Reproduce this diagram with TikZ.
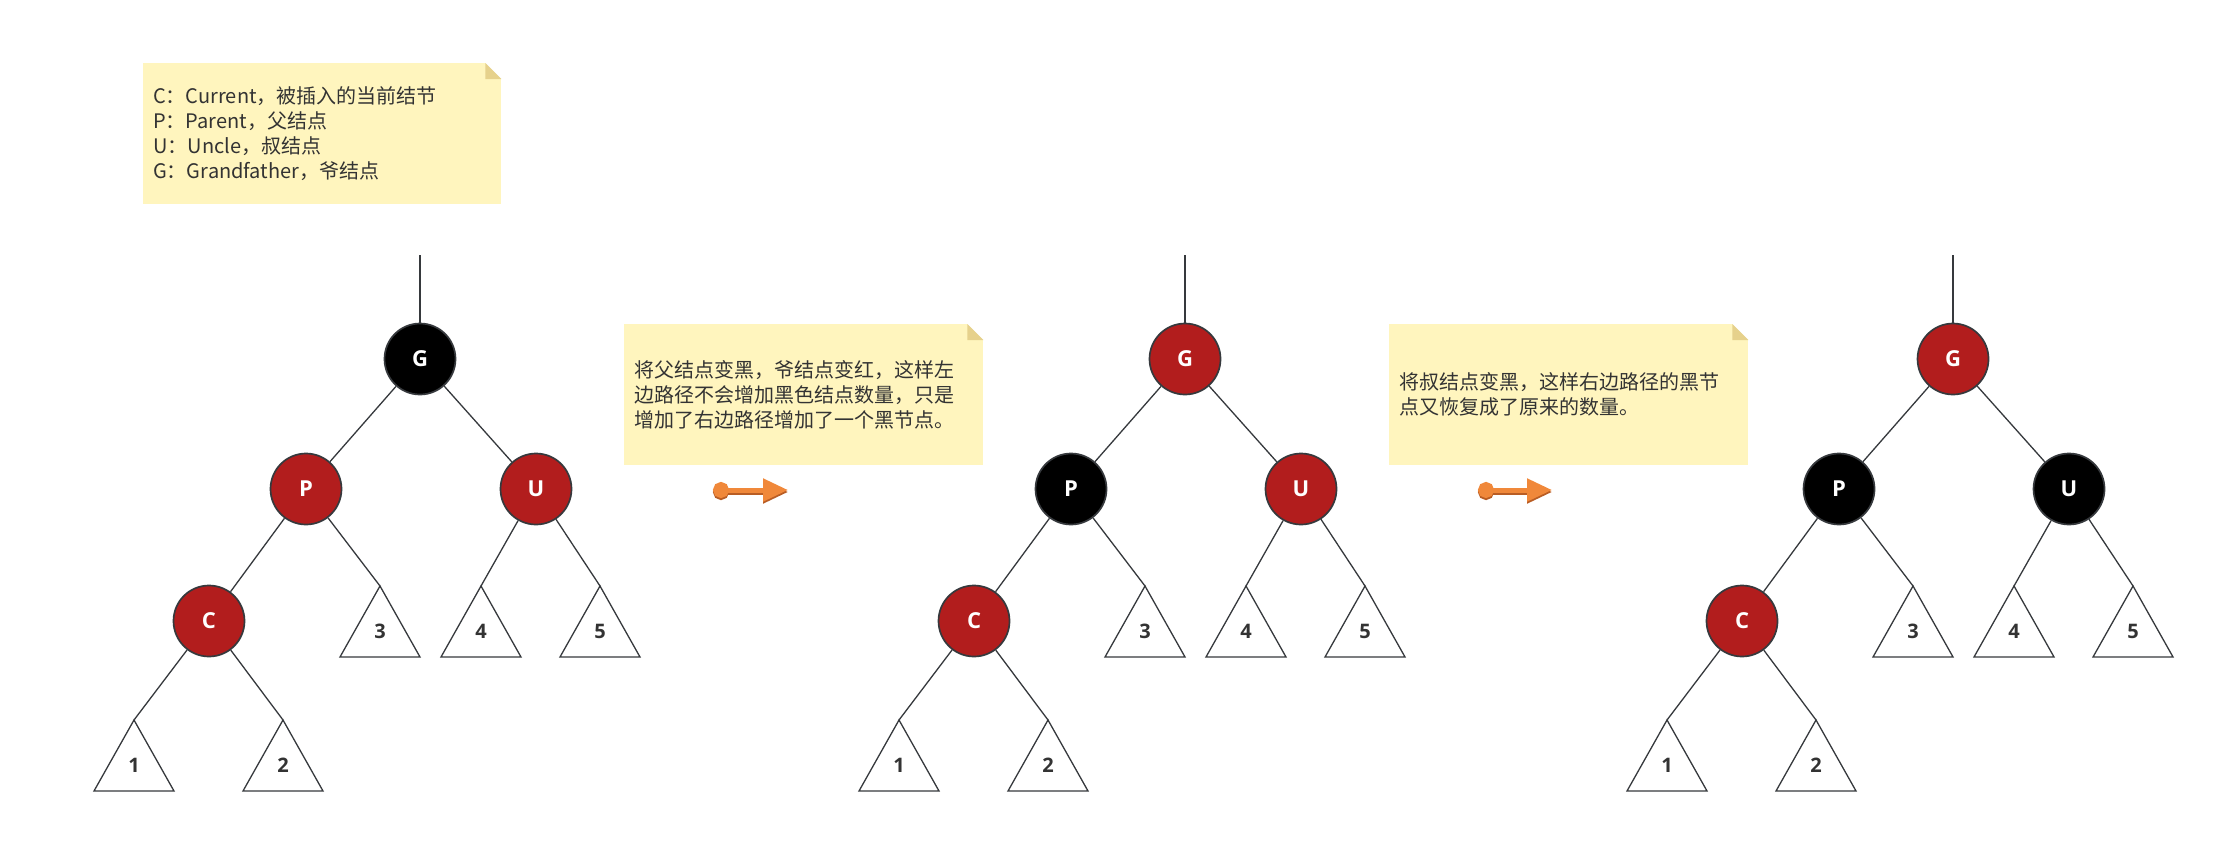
\documentclass[tikz,border=0pt]{standalone}
\usepackage{fontspec}
\setmainfont{Open Sans}
\newfontfamily\cjk{Noto Sans CJK SC}
\usetikzlibrary{arrows.meta}
\definecolor{rbred}{RGB}{178,29,29}
\definecolor{rbline}{RGB}{54,57,61}
\definecolor{notefill}{RGB}{255,245,190}
\definecolor{notefold}{RGB}{230,209,140}
\definecolor{notetext}{RGB}{51,51,51}
\definecolor{arroworange}{RGB}{240,136,58}
\definecolor{arrowdark}{RGB}{185,93,36}

\begin{document}
\begin{tikzpicture}[x=1bp,y=-1bp]
        \tikzstyle{rbnode}=[circle,draw=rbline,line width=1.7bp,inner sep=0pt,minimum size=71bp,text=white,font=\fontsize{22bp}{22bp}\selectfont\bfseries]
        \tikzstyle{rednode}=[rbnode,fill=rbred]
        \tikzstyle{blacknode}=[rbnode,fill=black]
        \tikzstyle{edge}=[draw,rbline,line width=1.3bp]
        \tikzstyle{subtree}=[draw=rbline,line width=1.3bp,fill=white]
        \tikzstyle{leaf}=[text=notetext,font=\fontsize{20bp}{20bp}\selectfont\bfseries]
        \tikzstyle{note}=[fill=notefill,anchor=north west,inner sep=10bp,minimum height=141bp,align=left,text=notetext,font=\cjk\fontsize{20bp}{25bp}\selectfont]
        \tikzstyle{swap}=[line width=5bp,{Circle[length=16bp]}-{Triangle[length=25bp,width=22bp]}]
        \useasboundingbox[fill=white] (0,0) rectangle (2234,855);

        % legend
        \node[note,text width=338bp] (legend) at (143,63) {C：Current，被插入的当前结节\\P：Parent，父结点\\U：Uncle，叔结点\\G：Grandfather，爷结点};
        \fill[white] (legend.north east) -- ++(-16,0) -- ++(16,16) -- cycle;
        \fill[notefold] (legend.north east) ++(-16,0) -- ++(0,16) -- ++(16,0) -- cycle;

        % first tree
        \begin{scope}
         \coordinate (top1) at (420,255);
         \node [blacknode] (g1) at (420,359) {G};
         \node [rednode] (p1) at (306,489) {P};
         \node [rednode] (u1) at (536,489) {U};
         \node [rednode] (c1) at (209,621) {C};
         \coordinate (s13) at (380,586);
         \coordinate (s14) at (481,586);
         \coordinate (s15) at (600,586);
         \coordinate (s11) at (134,720);
         \coordinate (s12) at (283,720);
         \path[edge] (top1) edge (g1);
         \path[edge] (g1) edge (p1) edge (u1);
         \path[edge] (p1) edge (c1) edge (s13);
         \path[edge] (u1) edge (s14) edge (s15);
         \path[edge] (c1) edge (s11) edge (s12);
         \draw[subtree] (s11) -- ++(-40,71) -- ++(80,0) -- cycle;
         \draw[subtree] (s12) -- ++(-40,71) -- ++(80,0) -- cycle;
         \draw[subtree] (s13) -- ++(-40,71) -- ++(80,0) -- cycle;
         \draw[subtree] (s14) -- ++(-40,71) -- ++(80,0) -- cycle;
         \draw[subtree] (s15) -- ++(-40,71) -- ++(80,0) -- cycle;
         \node [leaf] (n11) at (134,765) {1};
         \node [leaf] (n12) at (283,765) {2};
         \node [leaf] (n13) at (380,631) {3};
         \node [leaf] (n14) at (481,631) {4};
         \node [leaf] (n15) at (600,631) {5};
        \end{scope}

        % step one
        \node[note,text width=339bp] (note1) at (624,324) {将父结点变黑，爷结点变红，这样左\\边路径不会增加黑色结点数量，只是\\增加了右边路径增加了一个黑节点。};
        \fill[white] (note1.north east) -- ++(-16,0) -- ++(16,16) -- cycle;
        \fill[notefold] (note1.north east) ++(-16,0) -- ++(0,16) -- ++(16,0) -- cycle;
        \coordinate (a1) at (713,490);
        \coordinate (b1) at (788,490);
        \draw[swap,arrowdark,transform canvas={yshift=-2bp}] (a1) -- (b1);
        \draw[swap,arroworange] (a1) -- (b1);

        % second tree
        \begin{scope}[shift={(765,0)}]
         \coordinate (top2) at (420,255);
         \node [rednode] (g2) at (420,359) {G};
         \node [blacknode] (p2) at (306,489) {P};
         \node [rednode] (u2) at (536,489) {U};
         \node [rednode] (c2) at (209,621) {C};
         \coordinate (s23) at (380,586);
         \coordinate (s24) at (481,586);
         \coordinate (s25) at (600,586);
         \coordinate (s21) at (134,720);
         \coordinate (s22) at (283,720);
         \path[edge] (top2) edge (g2);
         \path[edge] (g2) edge (p2) edge (u2);
         \path[edge] (p2) edge (c2) edge (s23);
         \path[edge] (u2) edge (s24) edge (s25);
         \path[edge] (c2) edge (s21) edge (s22);
         \draw[subtree] (s21) -- ++(-40,71) -- ++(80,0) -- cycle;
         \draw[subtree] (s22) -- ++(-40,71) -- ++(80,0) -- cycle;
         \draw[subtree] (s23) -- ++(-40,71) -- ++(80,0) -- cycle;
         \draw[subtree] (s24) -- ++(-40,71) -- ++(80,0) -- cycle;
         \draw[subtree] (s25) -- ++(-40,71) -- ++(80,0) -- cycle;
         \node [leaf] (n21) at (134,765) {1};
         \node [leaf] (n22) at (283,765) {2};
         \node [leaf] (n23) at (380,631) {3};
         \node [leaf] (n24) at (481,631) {4};
         \node [leaf] (n25) at (600,631) {5};
        \end{scope}

        % step two
        \node[note,text width=339bp] (note2) at (1389,324) {将叔结点变黑，这样右边路径的黑节\\点又恢复成了原来的数量。};
        \fill[white] (note2.north east) -- ++(-16,0) -- ++(16,16) -- cycle;
        \fill[notefold] (note2.north east) ++(-16,0) -- ++(0,16) -- ++(16,0) -- cycle;
        \coordinate (a2) at (1478,490);
        \coordinate (b2) at (1552,490);
        \draw[swap,arrowdark,transform canvas={yshift=-2bp}] (a2) -- (b2);
        \draw[swap,arroworange] (a2) -- (b2);

        % third tree
        \begin{scope}[shift={(1533,0)}]
         \coordinate (top3) at (420,255);
         \node [rednode] (g3) at (420,359) {G};
         \node [blacknode] (p3) at (306,489) {P};
         \node [blacknode] (u3) at (536,489) {U};
         \node [rednode] (c3) at (209,621) {C};
         \coordinate (s33) at (380,586);
         \coordinate (s34) at (481,586);
         \coordinate (s35) at (600,586);
         \coordinate (s31) at (134,720);
         \coordinate (s32) at (283,720);
         \path[edge] (top3) edge (g3);
         \path[edge] (g3) edge (p3) edge (u3);
         \path[edge] (p3) edge (c3) edge (s33);
         \path[edge] (u3) edge (s34) edge (s35);
         \path[edge] (c3) edge (s31) edge (s32);
         \draw[subtree] (s31) -- ++(-40,71) -- ++(80,0) -- cycle;
         \draw[subtree] (s32) -- ++(-40,71) -- ++(80,0) -- cycle;
         \draw[subtree] (s33) -- ++(-40,71) -- ++(80,0) -- cycle;
         \draw[subtree] (s34) -- ++(-40,71) -- ++(80,0) -- cycle;
         \draw[subtree] (s35) -- ++(-40,71) -- ++(80,0) -- cycle;
         \node [leaf] (n31) at (134,765) {1};
         \node [leaf] (n32) at (283,765) {2};
         \node [leaf] (n33) at (380,631) {3};
         \node [leaf] (n34) at (481,631) {4};
         \node [leaf] (n35) at (600,631) {5};
        \end{scope}
\end{tikzpicture}
\end{document}
